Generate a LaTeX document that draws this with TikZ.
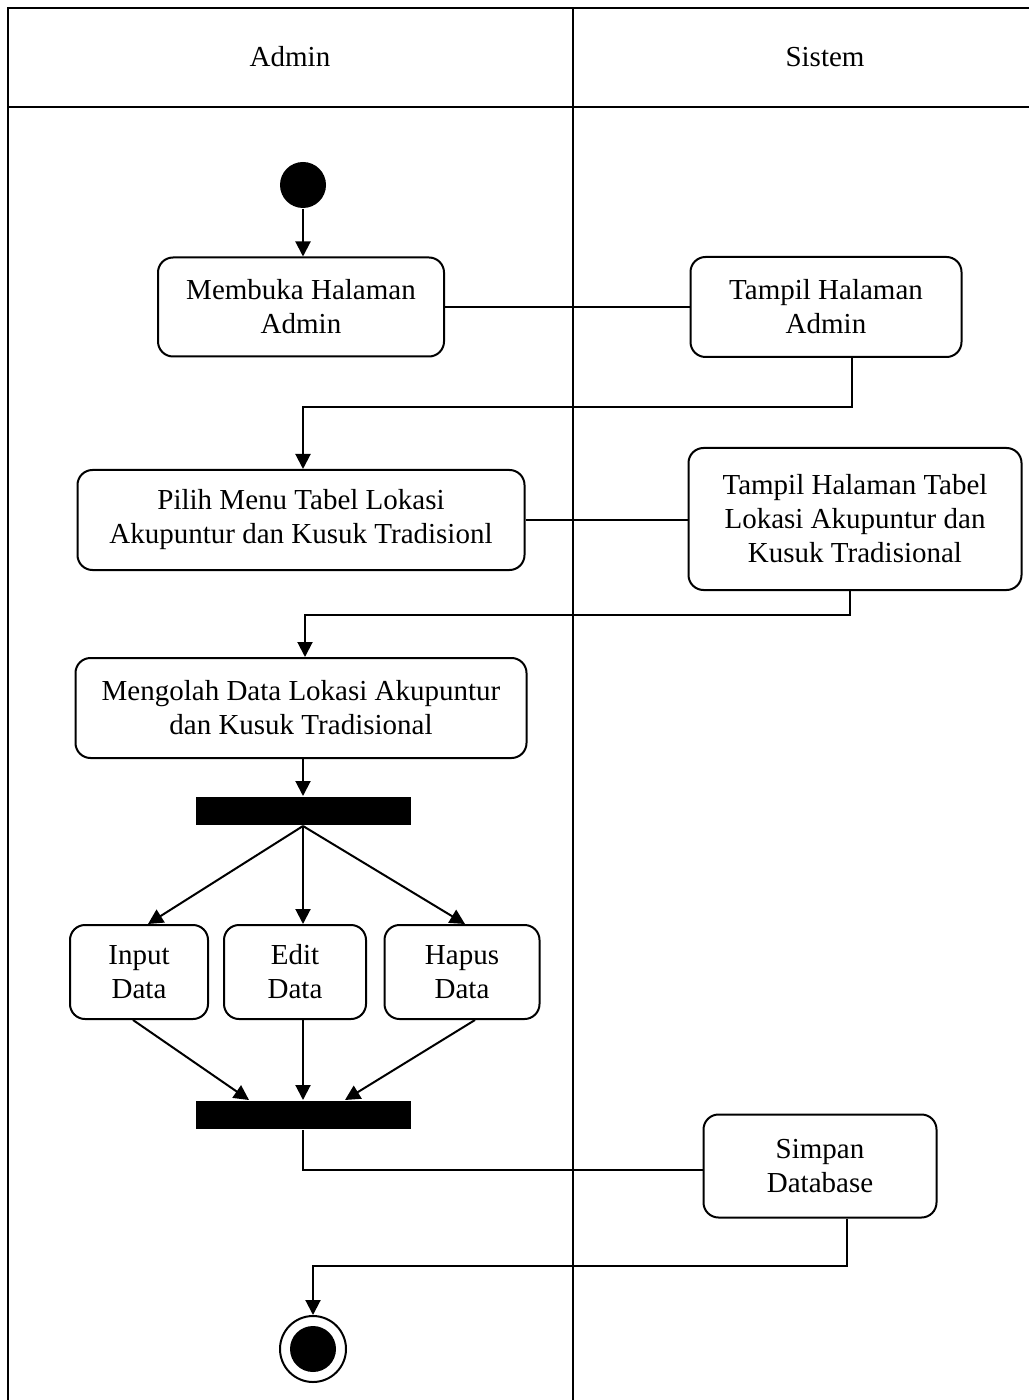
\documentclass[tikz,border=0pt]{standalone}
\usepackage{fontspec}
\setmainfont{Liberation Serif}
\usetikzlibrary{arrows.meta}
\begin{document}
\begin{tikzpicture}[x=0.5pt,y=-0.5pt,line width=1pt,
  every node/.style={font=\fontsize{14.5}{17}\selectfont},
  act/.style={draw,rounded corners=7.5pt,align=center,inner sep=0pt},
  bar/.style={fill=black,inner sep=0pt,minimum width=107.5pt,minimum height=14pt},
  flow/.style={-{Triangle[length=7.5pt,width=7.5pt]}}]
\useasboundingbox (0,0) rectangle (1029,1400);
% swimlanes
\draw[line width=1.2pt] (8,1400)--(8,8)--(1029,8);
\draw[line width=1.2pt] (8,107)--(1029,107);
\draw (573,8)--(573,1400);
\node (admin) at (290,57) {Admin};
\node (sistem) at (825,57) {Sistem};
% activities
\node[circle,fill=black,inner sep=0pt,minimum size=23pt] (start) at (303,185) {};
\node[act,minimum width=143pt,minimum height=49.5pt] (buka) at (301,307) {Membuka Halaman\\Admin};
\node[act,minimum width=135.5pt,minimum height=50pt] (tampil) at (826,307) {Tampil Halaman\\Admin};
\node[act,minimum width=223.5pt,minimum height=50pt] (pilih) at (301,520) {Pilih Menu Tabel Lokasi\\Akupuntur dan Kusuk Tradisionl};
\node[act,minimum width=166.5pt,minimum height=71pt] (tabel) at (855,519) {Tampil Halaman Tabel\\Lokasi Akupuntur dan\\Kusuk Tradisional};
\node[act,minimum width=225.5pt,minimum height=50pt] (olah) at (301,708) {Mengolah Data Lokasi Akupuntur\\dan Kusuk Tradisional};
\node[bar] (fork) at (303,811) {};
\node[act,minimum width=69pt,minimum height=47pt] (input) at (139,972) {Input\\Data};
\node[act,minimum width=71pt,minimum height=47pt] (edit) at (295,972) {Edit\\Data};
\node[act,minimum width=77.5pt,minimum height=47pt] (hapus) at (462,972) {Hapus\\Data};
\node[bar] (join) at (303,1115) {};
\node[act,minimum width=116.5pt,minimum height=51.5pt] (simpan) at (820,1166) {Simpan\\Database};
\node[circle,draw,inner sep=0pt,minimum size=33pt,
  path picture={\fill (path picture bounding box.center) circle (11.5pt);}] (stop) at (313,1349) {};
% flows
\draw[flow] (start) -- (start |- buka.north);
\draw (buka.east) -- (buka.east -| tampil.west);
\draw[flow] ([xshift=13pt]tampil.south) -- ++(0,49) -| ([xshift=1pt]pilih.north);
\draw (pilih.east) -- (pilih.east -| tabel.west);
\draw[flow] ([xshift=-2.5pt]tabel.south) -- ++(0,24) -| ([xshift=2pt]olah.north);
\draw[flow] (olah.south -| fork.north) -- (fork.north);
\draw[flow] (fork.south) -- ([xshift=4.5pt]input.north);
\draw[flow] (fork.south) -- (fork.south |- edit.north);
\draw[flow] (fork.south) -- ([xshift=1.5pt]hapus.north);
\draw[flow] ([xshift=-3pt]input.south) -- ([xshift=-27pt]join.north);
\draw[flow] (edit.south -| join.north) -- (join.north);
\draw[flow] ([xshift=6.5pt]hapus.south) -- ([xshift=21pt]join.north);
\draw (join.south) |- ([yshift=-2pt]simpan.west);
\draw[flow] ([xshift=13.5pt]simpan.south) -- ++(0,47) -| (stop.north);
\end{tikzpicture}
\end{document}
